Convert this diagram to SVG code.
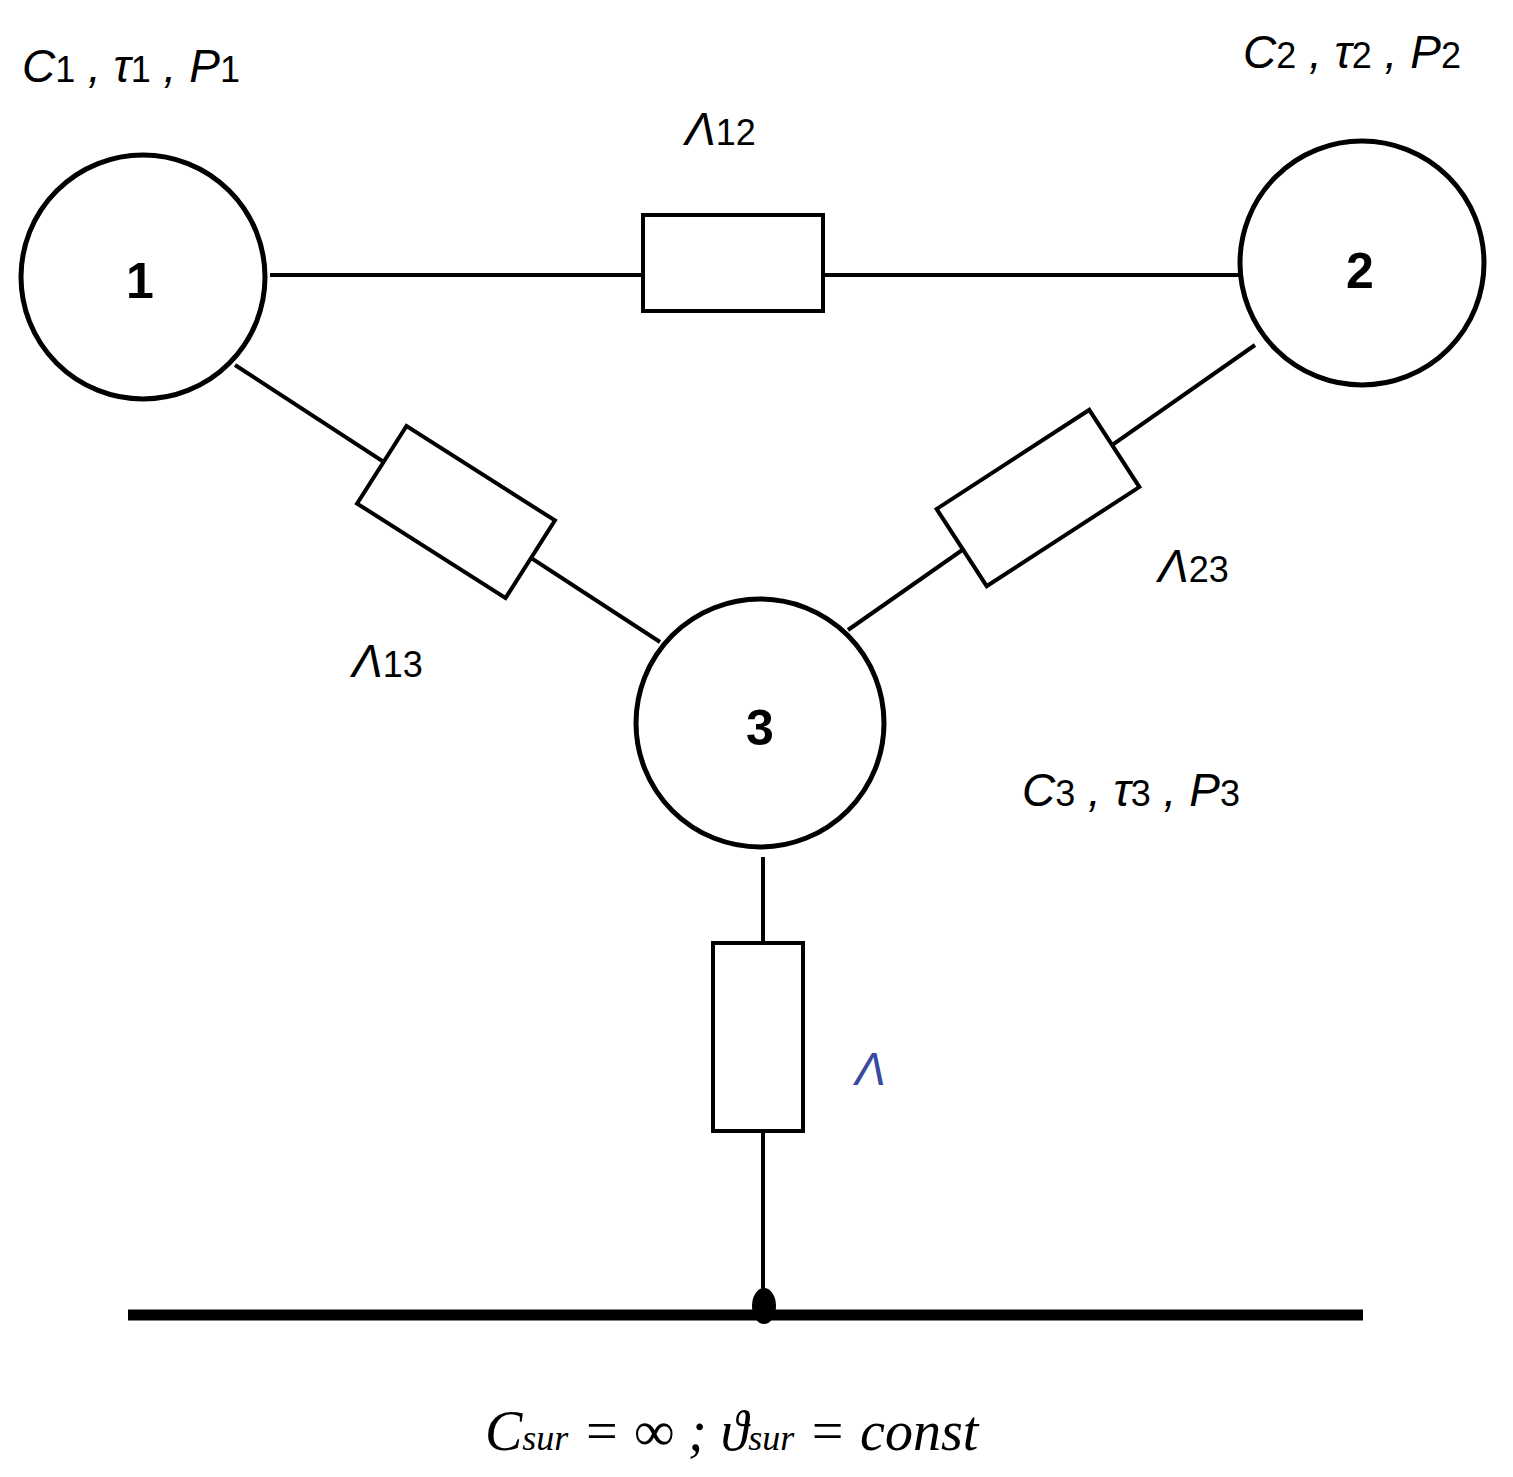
<svg xmlns="http://www.w3.org/2000/svg" width="1513" height="1477" viewBox="0 0 1513 1477">
<style>
.n{fill:#fff;stroke:#000;stroke-width:5}
.w{stroke:#000;stroke-width:4;fill:none}
.r{fill:#fff;stroke:#000;stroke-width:4}
.t{font-family:"Liberation Sans",sans-serif;font-style:italic;font-size:46px;fill:#000}
.s{font-style:normal;font-size:36px}
.b{font-family:"Liberation Sans",sans-serif;font-weight:bold;font-size:50px;text-anchor:middle}
</style>
<rect width="1513" height="1477" fill="#fff"/>
<g id="connectors">
<line class="w" x1="270" y1="275" x2="1240" y2="275"/>
<line class="w" x1="235" y1="365" x2="660" y2="642"/>
<line class="w" x1="1255" y1="345" x2="848" y2="630"/>
<line class="w" x1="763" y1="857" x2="763" y2="1300"/>
<rect class="r" x="643" y="215" width="180" height="96"/>
<rect class="r" x="-88" y="-46" width="176" height="92" transform="translate(456,512) rotate(32.5)"/>
<rect class="r" x="-91" y="-46" width="182" height="92" transform="translate(1038,498) rotate(-33)"/>
<rect class="r" x="713" y="943" width="90" height="188"/>
<line x1="128" y1="1315" x2="1363" y2="1315" stroke="#000" stroke-width="11"/>
<ellipse cx="764" cy="1306" rx="12" ry="18" fill="#000"/>
</g>
<g id="node1"><circle class="n" cx="143" cy="277" r="122"/><text class="b" x="140" y="298">1</text></g>
<g id="node2"><circle class="n" cx="1362" cy="263" r="122"/><text class="b" x="1360" y="288">2</text></g>
<g id="node3"><circle class="n" cx="760" cy="723" r="124"/><text class="b" x="760" y="745">3</text></g>
<g id="labels">
<text class="t" x="22" y="82">C<tspan class="s">1</tspan> , τ<tspan class="s">1</tspan> , P<tspan class="s">1</tspan></text>
<text class="t" x="1243" y="68">C<tspan class="s">2</tspan> , τ<tspan class="s">2</tspan> , P<tspan class="s">2</tspan></text>
<text class="t" x="1022" y="806">C<tspan class="s">3</tspan> , τ<tspan class="s">3</tspan> , P<tspan class="s">3</tspan></text>
<text class="t" x="685" y="145">Λ<tspan class="s">12</tspan></text>
<text class="t" x="352" y="677">Λ<tspan class="s">13</tspan></text>
<text class="t" x="1158" y="582">Λ<tspan class="s">23</tspan></text>
<text class="t" x="855" y="1085" fill="#3a4aa0" style="fill:#3a4aa0">Λ</text>
<text class="t" x="485" y="1450" style="font-family:'Liberation Serif',serif;font-size:56px">C<tspan class="s" style="font-style:italic">sur</tspan> = ∞ ; ϑ<tspan class="s" style="font-style:italic">sur</tspan> = const</text>
</g>
</svg>
